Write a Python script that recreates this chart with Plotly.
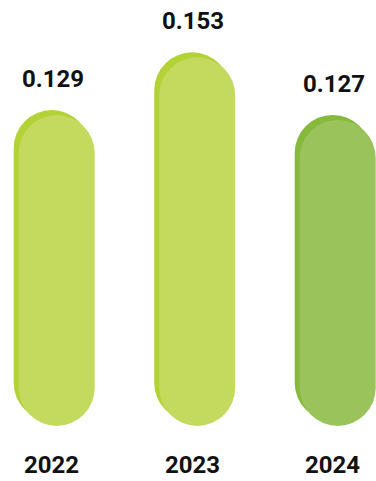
import plotly.graph_objects as go

years = [2022, 2023, 2024]
values = [0.129, 0.153, 0.127]
labels = ["0.129", "0.153", "0.127"]
front_colors = ["#C3DA5F", "#C3DA5F", "#9BC35B"]
shadow_colors = ["#B2D235", "#B2D235", "#86B93C"]

W, H = 376, 481
px_per_x = 140.5
px_per_y = 2410.0
x_center_px = 197.2
base_px = 426.0

x0 = 2023 - x_center_px / px_per_x
x1 = 2023 + (W - x_center_px) / px_per_x
y0 = -(H - base_px) / px_per_y
y1 = base_px / px_per_y

dx = 5 / px_per_x
dy = 5 / px_per_y
bw = 76 / px_per_x

fig = go.Figure()
zero_base = [0 for _ in values]


def pill(colors, xa, ya):
    # with an explicit base, plotly rounds both ends -> pill shape
    fig.add_trace(go.Bar(x=years, y=values, base=zero_base, width=bw,
                         marker=dict(color=colors, line=dict(width=0), cornerradius="50%"),
                         xaxis=xa, yaxis=ya, hoverinfo="skip", showlegend=False))


pill(shadow_colors, "x", "y")      # shadow underneath
pill(front_colors, "x2", "y2")     # front on overlaying axes

font = dict(family="Roboto", size=24, color="#111111", weight="bold")
for yr, v, t in zip(years, values, labels):
    fig.add_annotation(x=yr, y=v, xref="x2", yref="y2", text=t, showarrow=False,
                       font=font, yshift=36, xshift=-4)
    fig.add_annotation(x=yr, y=0, xref="x2", yref="y2", text=str(yr), showarrow=False,
                       font=font, yshift=-39, xshift=-5)

ax = dict(visible=False, showgrid=False, zeroline=False, fixedrange=True)
fig.update_layout(
    width=W, height=H,
    margin=dict(l=0, r=0, t=0, b=0),
    paper_bgcolor="white", plot_bgcolor="rgba(0,0,0,0)",
    barmode="overlay",
    xaxis=dict(range=[x0 + dx, x1 + dx], domain=[0, 1], **ax),
    yaxis=dict(range=[y0 - dy, y1 - dy], domain=[0, 1], **ax),
    xaxis2=dict(range=[x0, x1], overlaying="x", **ax),
    yaxis2=dict(range=[y0, y1], overlaying="y", **ax),
)

fig.write_html("out.html", config={"displayModeBar": False})
